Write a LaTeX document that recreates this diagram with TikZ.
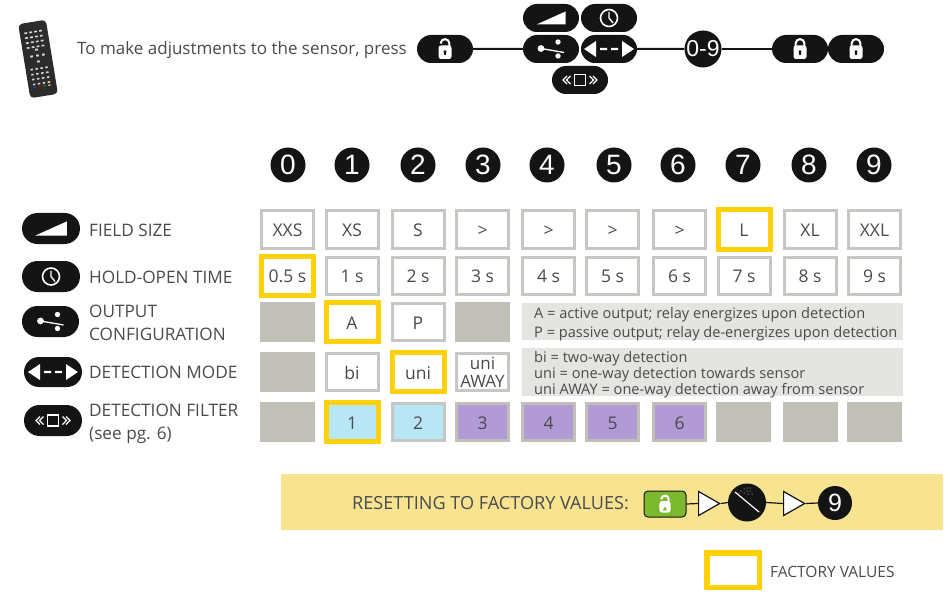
\documentclass[tikz,border=0pt]{standalone}
\usepackage{fontspec}
\setmainfont{Open Sans}
\newfontfamily\numfont{Liberation Sans}
\usetikzlibrary{shapes.misc,shapes.geometric}
\definecolor{ink}{HTML}{4A4A4C}
\definecolor{cellgray}{HTML}{C6C6C2}
\definecolor{factory}{HTML}{FFD10A}
\definecolor{fillgray}{HTML}{C0C0B8}
\definecolor{infogray}{HTML}{E4E4E0}
\definecolor{band}{HTML}{F8E391}
\definecolor{skyb}{HTML}{B9E6F5}
\definecolor{purp}{HTML}{B29AD6}
\definecolor{greenb}{HTML}{7DB92E}
\definecolor{pill}{HTML}{141414}
\tikzset{
 txt/.style={text=ink,font=\fontsize{17}{20}\selectfont,inner sep=0,anchor=west},
 rowlab/.style={text=ink,font=\fontsize{17.2}{23}\selectfont,inner sep=0,anchor=west,align=left},
 cell/.style={draw=cellgray,line width=3,fill=white,minimum width=52,minimum height=37,inner sep=0,text=ink,text height=14.5,text depth=0,font=\fontsize{17.5}{20}\selectfont},
 fact/.style={draw=factory,line width=5,fill=white,minimum width=52,minimum height=39,inner sep=0,text=ink,text height=14.5,text depth=0,font=\fontsize{17.5}{20}\selectfont},
 blank/.style={fill=fillgray,minimum width=55,minimum height=40,inner sep=0},
 purple/.style={cell,fill=purp,draw=fillgray},
 numc/.style={circle,fill=pill,text=white,minimum size=35,inner sep=0,font=\numfont\fontsize{28}{28}\selectfont},
 pillb/.style={rounded rectangle,fill=pill,minimum width=56,minimum height=28,inner sep=0},
 pilll/.style={rounded rectangle,fill=pill,minimum width=58,minimum height=31,inner sep=0},
 info/.style={fill=infogray,inner sep=0,anchor=north west},
 infot/.style={text=ink,font=\fontsize{14.6}{16}\selectfont,inner sep=0,anchor=west,align=left},
 conn/.style={line width=2,draw=pill},
 tri/.style={isosceles triangle,isosceles triangle stretches,shape border rotate=0,draw=pill,line width=1.2,fill=white,inner sep=0,minimum height=21,minimum width=24,anchor=lower side},
 pics/lockopen/.style={code={
   \draw[white,line width=2] (-4.4,-5.5) arc[start angle=180,end angle=360,radius=4.4] -- (4.4,-3);
   \fill[white,rounded corners=2.5] (-6.5,-3.5) rectangle (6.5,10);
   \fill[pill] (0,2.8) circle (1.7); \fill[pill] (-.8,2.8) rectangle (.8,6.5);}},
 pics/lockshut/.style={code={
   \draw[white,line width=2] (-4.4,-3) -- (-4.4,-5.5) arc[start angle=180,end angle=360,radius=4.4] -- (4.4,-3);
   \fill[white,rounded corners=2.5] (-6.5,-3.5) rectangle (6.5,10);
   \fill[pill] (0,2.8) circle (1.7); \fill[pill] (-.8,2.8) rectangle (.8,6.5);}},
 pics/wedge/.style={code={\fill[white] (-14.5,6.5) -- (14.5,-6.5) -- (14.5,6.5) -- cycle;}},
 pics/clock/.style={code={
   \draw[white,line width=1.6] (0,0) circle (8.5);
   \draw[white,line width=1.4] (0,-6) -- (0,0) -- (4,5);}},
 pics/outcfg/.style={code={
   \fill[white] (-10,-.5) circle (3.4) (7,-7) circle (2.7) (7,7) circle (2.7);
   \draw[white,line width=1.3] (-10,-.5) -- (13,3.5);}},
 pics/modeic/.style={code={
   \fill[white] (-25,0) -- (-13,-8) -- (-13,8) -- cycle;
   \fill[white] (25,0) -- (13,-8) -- (13,8) -- cycle;
   \fill[white] (-9,-1.1) rectangle (-2,1.1) (2,-1.1) rectangle (9,1.1);}},
 pics/filteric/.style={code={
   \draw[white,line width=1.6] (-5.5,-5.5) rectangle (5.5,5.5);
   \draw[white,line width=1.2] (-13,-4) -- (-17,0) -- (-13,4) (-9.5,-4) -- (-13.5,0) -- (-9.5,4);
   \draw[white,line width=1.2] (13,-4) -- (17,0) -- (13,4) (9.5,-4) -- (13.5,0) -- (9.5,4);}},
}
\begin{document}
\begin{tikzpicture}[x=1pt,y=-1pt]
\useasboundingbox (0,0) rectangle (950,596);
% remote
\begin{scope}[shift={(32,22)},rotate=9.3]
 \fill[pill!90!white,rounded corners=4] (-14,0) rectangle (14,75);
 \foreach \yy in {10,15,20,25}\foreach \xx in {-8,-3,2,7} \fill[white!85!black] (\xx-1.4,\yy-.8) rectangle (\xx+1.4,\yy+.8);
 \foreach \dx/\dy in {0/-6,-6/0,6/0,0/6,0/0} \fill[white!85!black] (\dx-1.3,34+\dy-1) rectangle (\dx+1.3,34+\dy+1);
 \foreach \yy in {47,52,57,62}\foreach \xx in {-8,-3,2,7} \fill[white!85!black] (\xx-1.2,\yy-.8) rectangle (\xx+1.2,\yy+.8);
 \fill[blue!70!cyan] (-9.2,64.4) rectangle (-6.8,65.8);
 \fill[red!70!black] (-4.2,64.4) rectangle (-1.8,65.8);
 \fill[green!55!black] (.8,64.4) rectangle (3.2,65.8);
 \fill[yellow!80!black] (5.8,64.4) rectangle (8.2,65.8);
\end{scope}
\node[txt] (intro) at (77,50) {To make adjustments to the sensor, press};
% top sequence
\node[pillb] (tu) at (445,49) {};
\node[pillb] (tw) at (551,18) {};
\node[pillb] (tc) at (609,18) {};
\node[pillb] (to) at (551,49) {};
\node[pillb] (tm) at (609,49) {};
\node[pillb] (tf) at (580,80) {};
\node[circle,fill=pill,minimum size=37,inner sep=0,text=white,font=\numfont\fontsize{23}{23}\selectfont] (t09) at (703,49) {0-9};
\node[pillb] (tl1) at (800,49) {};
\node[pillb] (tl2) at (856,49) {};
\draw[conn] (tu) -- (to);
\draw[conn] (tm) -- (t09);
\draw[conn] (t09) -- (tl1);
\pic at (tu) {lockopen};
\pic at (tw) {wedge};
\pic at (tc) {clock};
\pic at (to) {outcfg};
\pic at (tm) {modeic};
\pic at (tf) {filteric};
\pic at (tl1) {lockshut};
\pic at (tl2) {lockshut};
% numbers
\node[numc] (n0) at (288,165) {0};
\node[numc] (n1) at (352,165) {1};
\node[numc] (n2) at (418,165) {2};
\node[numc] (n3) at (483,165) {3};
\node[numc] (n4) at (547,165) {4};
\node[numc] (n5) at (614,165) {5};
\node[numc] (n6) at (678,165) {6};
\node[numc] (n7) at (743,165) {7};
\node[numc] (n8) at (809,165) {8};
\node[numc] (n9) at (874,165) {9};
% row pills and labels
\node[pilll] (pa) at (51,228.5) {};
\node[pilll] (pb) at (51,276.5) {};
\node[pilll,minimum width=57] (pc) at (50.5,321.5) {};
\node[pilll,minimum height=30] (pd) at (53,372) {};
\node[pilll] (pe) at (53,420.5) {};
\pic[scale=1.1] at (pa) {wedge};
\pic at (pb) {clock};
\pic at (pc) {outcfg};
\pic at (pd) {modeic};
\pic at (pe) {filteric};
\node[rowlab] (la) at (89,230.5) {FIELD SIZE};
\node[rowlab] (lb) at (89,277) {HOLD-OPEN TIME};
\node[rowlab] (lc) at (89,323) {OUTPUT\\CONFIGURATION};
\node[rowlab] (ld) at (89,372) {DETECTION MODE};
\node[rowlab] (le) at (89,424) {DETECTION FILTER\\(see pg. 6)};
% field size
\node[cell] (a0) at (287.5,229.5) {XXS};
\node[cell] (a1) at (352,229.5) {XS};
\node[cell] (a2) at (418,229.5) {S};
\node[cell] (a3) at (482.5,229.5) {>};
\node[cell] (a4) at (548.5,229.5) {>};
\node[cell] (a5) at (612.5,229.5) {>};
\node[cell] (a6) at (679.5,229.5) {>};
\node[fact] (a7) at (744,229.5) {L};
\node[cell] (a8) at (810,229.5) {XL};
\node[cell] (a9) at (874.5,229.5) {XXL};
% hold-open
\node[fact] (b0) at (287.5,275.5) {0.5 s};
\node[cell] (b1) at (352,275.5) {1 s};
\node[cell] (b2) at (418,275.5) {2 s};
\node[cell] (b3) at (482.5,275.5) {3 s};
\node[cell] (b4) at (548.5,275.5) {4 s};
\node[cell] (b5) at (612.5,275.5) {5 s};
\node[cell] (b6) at (679.5,275.5) {6 s};
\node[cell] (b7) at (744,275.5) {7 s};
\node[cell] (b8) at (810,275.5) {8 s};
\node[cell] (b9) at (874.5,275.5) {9 s};
% output
\node[blank] (c0) at (287.5,322) {};
\node[fact] (c1) at (352,322) {A};
\node[cell] (c2) at (418,322) {P};
\node[blank] (c3) at (482.5,322) {};
\node[info,minimum width=381,minimum height=37] (ci) at (522,303) {};
\node[infot] (cit) at (534,324) {A = active output; relay energizes upon detection\\[3pt]P = passive output; relay de-energizes upon detection};
% mode
\node[blank] (d0) at (287.5,372) {};
\node[cell] (d1) at (352,372) {bi};
\node[fact] (d2) at (418,372) {uni};
\node[cell,align=center,text height={},text depth={},font=\fontsize{17}{18}\selectfont] (d3) at (482.5,372) {uni\\AWAY};
\node[info,minimum width=381,minimum height=48] (di) at (522,348) {};
\node[infot] (dit) at (534,375) {bi = two-way detection\\uni = one-way detection towards sensor\\uni AWAY = one-way detection away from sensor};
% filter
\node[blank] (e0) at (287.5,422) {};
\node[fact,fill=skyb] (e1) at (352,422) {1};
\node[cell,fill=skyb] (e2) at (418,422) {2};
\node[purple] (e3) at (482.5,422) {3};
\node[purple] (e4) at (548.5,422) {4};
\node[purple] (e5) at (612.5,422) {5};
\node[purple] (e6) at (679.5,422) {6};
\node[blank] (e7) at (743.5,422) {};
\node[blank] (e8) at (810,422) {};
\node[blank] (e9) at (874.5,422) {};
% reset band
\node[fill=band,minimum width=662,minimum height=56,inner sep=0,anchor=north west] (bandn) at (281,474) {};
\node[txt,font=\fontsize{18.1}{20}\selectfont] (rt) at (352,503) {RESETTING TO FACTORY VALUES:};
\node[draw=pill,line width=1,fill=greenb,rounded corners=4,minimum width=42,minimum height=26,inner sep=0] (rg) at (665,504) {};
\node[circle,fill=pill,minimum size=38,inner sep=0] (rd) at (747,502.5) {};
\node[circle,fill=pill,minimum size=34,inner sep=0,text=white,font=\numfont\fontsize{25}{25}\selectfont] (r9) at (835,503) {9};
\node[tri] (t1) at (698,503.5) {};
\node[tri] (t2) at (783,503.5) {};
\draw[line width=1.2,draw=pill] (rg.east) -- (t1.lower side);
\draw[line width=1.2,draw=pill] (t1.apex) -- (rd.west);
\draw[line width=1.2,draw=pill] (rd.east) -- (t2.lower side);
\draw[line width=1.2,draw=pill] (t2.apex) -- (r9.west);
\begin{scope}[shift={(665,504)},scale=.85]
 \draw[white,line width=2] (-4.4,-5.5) arc[start angle=180,end angle=360,radius=4.4] -- (4.4,-3);
 \fill[white,rounded corners=2.5] (-6.5,-3.5) rectangle (6.5,10);
 \fill[greenb] (0,3) -- (-2.6,7.5) -- (2.6,7.5) -- cycle;
\end{scope}
\draw[white,line width=1.2] (735,492) -- (759,512);
\foreach \dx/\dy in {-6/-11,-3/-13,0/-14,3/-14,-3/-9,0/-11,3/-11,5/-8,1/-8,-8/-9}
 \fill[white] (747+\dx,502+\dy) circle (.5);
% legend
\node[draw=factory,line width=5.5,fill=white,minimum width=52.5,minimum height=34.5,inner sep=0] (fv) at (733,570) {};
\node[txt,font=\fontsize{15.5}{18}\selectfont] (fvt) at (770,572) {FACTORY VALUES};
\end{tikzpicture}
\end{document}
